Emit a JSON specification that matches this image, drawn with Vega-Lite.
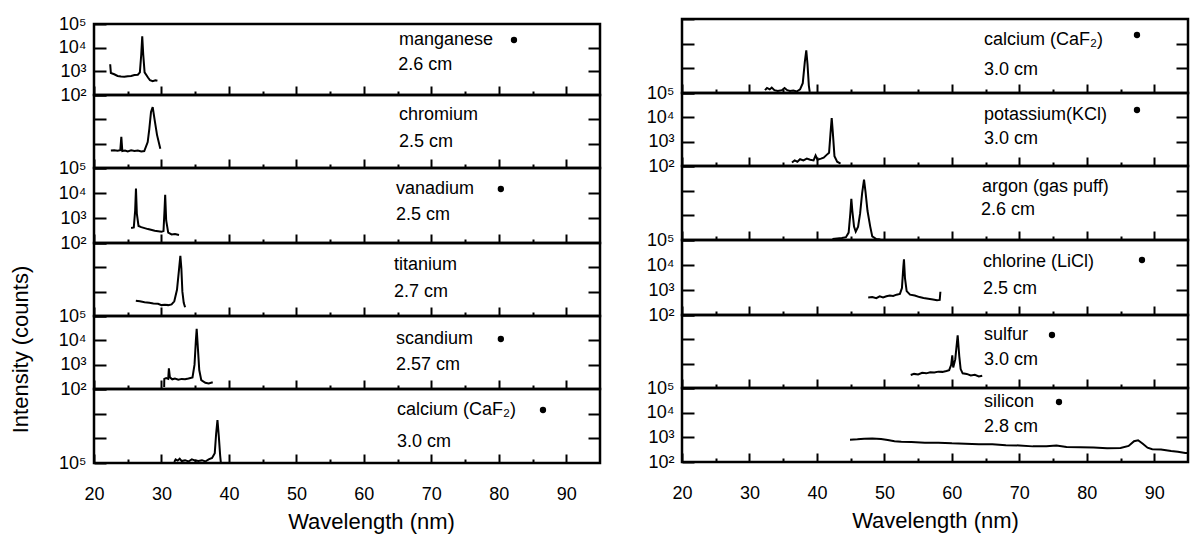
{
"$schema": "https://vega.github.io/schema/vega-lite/v6.json",
"background": "white",
"padding": {"left": 7, "top": 13, "right": 5, "bottom": 5},
"config": {
 "view": {"stroke": "black", "strokeWidth": 2.5},
 "font": "Liberation Sans",
 "axis": {"domain": false, "grid": false, "tickColor": "black", "tickWidth": 2, "labelColor": "black", "labelFont": "Liberation Sans", "labelFontSize": 18, "titleFont": "Liberation Sans", "titleFontSize": 22, "titleFontWeight": "normal", "titleColor": "black", "labelFlush": false, "labelOverlap": false},
 "axisX": {"labelPadding": 31, "titlePadding": 8},
 "axisY": {"labelPadding": 20}
},
"datasets": {
"spectra": [
{"p":"L1","w":22.4,"v":2000},{"p":"L1","w":22.5,"v":850},{"p":"L1","w":23,"v":750},{"p":"L1","w":23.5,"v":640},{"p":"L1","w":24,"v":600},{"p":"L1","w":24.5,"v":590},{"p":"L1","w":25,"v":620},{"p":"L1","w":25.5,"v":640},{"p":"L1","w":26,"v":700},{"p":"L1","w":26.5,"v":720},{"p":"L1","w":26.8,"v":900},{"p":"L1","w":27.0,"v":5000},{"p":"L1","w":27.15,"v":30000},{"p":"L1","w":27.3,"v":5000},{"p":"L1","w":27.5,"v":900},{"p":"L1","w":28.0,"v":550},{"p":"L1","w":28.3,"v":420},{"p":"L1","w":28.7,"v":380},{"p":"L1","w":29.1,"v":420},{"p":"L1","w":29.4,"v":400},
{"p":"L2","w":22.5,"v":520},{"p":"L2","w":23,"v":530},{"p":"L2","w":23.5,"v":510},{"p":"L2","w":23.9,"v":540},{"p":"L2","w":24.05,"v":1900},{"p":"L2","w":24.2,"v":500},{"p":"L2","w":24.6,"v":520},{"p":"L2","w":25,"v":480},{"p":"L2","w":25.5,"v":530},{"p":"L2","w":26,"v":500},{"p":"L2","w":26.5,"v":520},{"p":"L2","w":27,"v":480},{"p":"L2","w":27.45,"v":500},{"p":"L2","w":27.96,"v":1170},{"p":"L2","w":28.2,"v":4100},{"p":"L2","w":28.45,"v":20000},{"p":"L2","w":28.7,"v":32000},{"p":"L2","w":29.04,"v":7700},{"p":"L2","w":29.34,"v":2300},{"p":"L2","w":29.83,"v":615},
{"p":"L3","w":25.5,"v":400},{"p":"L3","w":25.9,"v":420},{"p":"L3","w":26.1,"v":2000},{"p":"L3","w":26.22,"v":15000},{"p":"L3","w":26.35,"v":1500},{"p":"L3","w":26.6,"v":480},{"p":"L3","w":27,"v":430},{"p":"L3","w":28,"v":360},{"p":"L3","w":29,"v":310},{"p":"L3","w":30,"v":280},{"p":"L3","w":30.3,"v":300},{"p":"L3","w":30.45,"v":2000},{"p":"L3","w":30.55,"v":8500},{"p":"L3","w":30.7,"v":800},{"p":"L3","w":31,"v":260},{"p":"L3","w":31.5,"v":220},{"p":"L3","w":32,"v":230},{"p":"L3","w":32.6,"v":210},
{"p":"L4","w":26.2,"v":420},{"p":"L4","w":26.8,"v":400},{"p":"L4","w":27.5,"v":370},{"p":"L4","w":28.2,"v":350},{"p":"L4","w":28.8,"v":330},{"p":"L4","w":29.5,"v":320},{"p":"L4","w":30,"v":280},{"p":"L4","w":30.5,"v":290},{"p":"L4","w":31,"v":280},{"p":"L4","w":31.5,"v":300},{"p":"L4","w":31.9,"v":400},{"p":"L4","w":32.3,"v":1200},{"p":"L4","w":32.6,"v":8000},{"p":"L4","w":32.8,"v":30000},{"p":"L4","w":32.95,"v":9000},{"p":"L4","w":33.1,"v":1000},{"p":"L4","w":33.3,"v":350},{"p":"L4","w":33.5,"v":230},
{"p":"L5","w":30.4,"v":120},{"p":"L5","w":30.42,"v":260},{"p":"L5","w":30.7,"v":280},{"p":"L5","w":31.0,"v":260},{"p":"L5","w":31.1,"v":700},{"p":"L5","w":31.25,"v":300},{"p":"L5","w":31.6,"v":250},{"p":"L5","w":32,"v":270},{"p":"L5","w":32.5,"v":240},{"p":"L5","w":33,"v":260},{"p":"L5","w":33.5,"v":250},{"p":"L5","w":34,"v":270},{"p":"L5","w":34.6,"v":300},{"p":"L5","w":34.9,"v":1000},{"p":"L5","w":35.1,"v":10000},{"p":"L5","w":35.22,"v":30000},{"p":"L5","w":35.35,"v":8000},{"p":"L5","w":35.6,"v":600},{"p":"L5","w":35.9,"v":230},{"p":"L5","w":36.5,"v":180},{"p":"L5","w":37,"v":170},{"p":"L5","w":37.6,"v":190},
{"p":"L6","w":31.9,"v":110},{"p":"L6","w":32.1,"v":140},{"p":"L6","w":32.4,"v":125},{"p":"L6","w":32.7,"v":150},{"p":"L6","w":33,"v":120},{"p":"L6","w":33.5,"v":130},{"p":"L6","w":34,"v":115},{"p":"L6","w":34.5,"v":140},{"p":"L6","w":35,"v":125},{"p":"L6","w":35.5,"v":120},{"p":"L6","w":36,"v":130},{"p":"L6","w":36.5,"v":115},{"p":"L6","w":37,"v":140},{"p":"L6","w":37.5,"v":160},{"p":"L6","w":37.9,"v":250},{"p":"L6","w":38.1,"v":1500},{"p":"L6","w":38.3,"v":5500},{"p":"L6","w":38.5,"v":1200},{"p":"L6","w":38.7,"v":200},{"p":"L6","w":38.8,"v":105},
{"p":"R1","w":32.3,"v":130},{"p":"R1","w":32.6,"v":160},{"p":"R1","w":33,"v":140},{"p":"R1","w":33.3,"v":165},{"p":"R1","w":33.7,"v":130},{"p":"R1","w":34.2,"v":120},{"p":"R1","w":34.8,"v":130},{"p":"R1","w":35.2,"v":160},{"p":"R1","w":35.6,"v":130},{"p":"R1","w":36,"v":120},{"p":"R1","w":36.5,"v":125},{"p":"R1","w":37,"v":115},{"p":"R1","w":37.5,"v":140},{"p":"R1","w":37.9,"v":250},{"p":"R1","w":38.2,"v":1800},{"p":"R1","w":38.42,"v":5400},{"p":"R1","w":38.6,"v":1500},{"p":"R1","w":38.8,"v":200},{"p":"R1","w":38.93,"v":110},
{"p":"R2","w":36.3,"v":140},{"p":"R2","w":36.7,"v":170},{"p":"R2","w":37.1,"v":150},{"p":"R2","w":37.5,"v":190},{"p":"R2","w":38,"v":170},{"p":"R2","w":38.5,"v":200},{"p":"R2","w":39,"v":180},{"p":"R2","w":39.5,"v":170},{"p":"R2","w":39.8,"v":270},{"p":"R2","w":40.1,"v":180},{"p":"R2","w":40.6,"v":200},{"p":"R2","w":41,"v":220},{"p":"R2","w":41.4,"v":280},{"p":"R2","w":41.8,"v":350},{"p":"R2","w":42.0,"v":2000},{"p":"R2","w":42.19,"v":9400},{"p":"R2","w":42.35,"v":2500},{"p":"R2","w":42.6,"v":250},{"p":"R2","w":43,"v":150},{"p":"R2","w":43.5,"v":125},
{"p":"R3","w":42.3,"v":110},{"p":"R3","w":43,"v":115},{"p":"R3","w":43.7,"v":120},{"p":"R3","w":44.3,"v":130},{"p":"R3","w":44.7,"v":200},{"p":"R3","w":44.95,"v":1200},{"p":"R3","w":45.1,"v":4700},{"p":"R3","w":45.25,"v":1500},{"p":"R3","w":45.5,"v":350},{"p":"R3","w":45.75,"v":220},{"p":"R3","w":46.1,"v":350},{"p":"R3","w":46.4,"v":1200},{"p":"R3","w":46.7,"v":8000},{"p":"R3","w":46.98,"v":27800},{"p":"R3","w":47.2,"v":9000},{"p":"R3","w":47.5,"v":1500},{"p":"R3","w":47.9,"v":350},{"p":"R3","w":48.2,"v":140},{"p":"R3","w":48.8,"v":110},{"p":"R3","w":49.4,"v":105},
{"p":"R4","w":47.6,"v":500},{"p":"R4","w":48.2,"v":520},{"p":"R4","w":48.8,"v":470},{"p":"R4","w":49.3,"v":560},{"p":"R4","w":49.8,"v":500},{"p":"R4","w":50.3,"v":560},{"p":"R4","w":50.8,"v":600},{"p":"R4","w":51.3,"v":580},{"p":"R4","w":51.8,"v":650},{"p":"R4","w":52.3,"v":700},{"p":"R4","w":52.6,"v":1200},{"p":"R4","w":52.8,"v":8000},{"p":"R4","w":52.9,"v":17000},{"p":"R4","w":53.05,"v":3000},{"p":"R4","w":53.3,"v":900},{"p":"R4","w":53.8,"v":650},{"p":"R4","w":54.5,"v":600},{"p":"R4","w":55.2,"v":520},{"p":"R4","w":55.8,"v":480},{"p":"R4","w":56.5,"v":450},{"p":"R4","w":57.2,"v":420},{"p":"R4","w":57.8,"v":390},{"p":"R4","w":58.2,"v":400},{"p":"R4","w":58.3,"v":850},
{"p":"R5","w":53.9,"v":340},{"p":"R5","w":54.4,"v":380},{"p":"R5","w":55,"v":360},{"p":"R5","w":55.6,"v":420},{"p":"R5","w":56.2,"v":400},{"p":"R5","w":56.8,"v":440},{"p":"R5","w":57.4,"v":430},{"p":"R5","w":58,"v":470},{"p":"R5","w":58.6,"v":460},{"p":"R5","w":59.2,"v":500},{"p":"R5","w":59.6,"v":540},{"p":"R5","w":59.9,"v":900},{"p":"R5","w":60.06,"v":2200},{"p":"R5","w":60.2,"v":700},{"p":"R5","w":60.5,"v":1500},{"p":"R5","w":60.86,"v":14700},{"p":"R5","w":61.1,"v":2000},{"p":"R5","w":61.3,"v":600},{"p":"R5","w":61.6,"v":400},{"p":"R5","w":62.2,"v":380},{"p":"R5","w":62.8,"v":330},{"p":"R5","w":63.4,"v":350},{"p":"R5","w":64,"v":300},{"p":"R5","w":64.5,"v":320},
{"p":"R6","w":44.9,"v":800},{"p":"R6","w":46,"v":830},{"p":"R6","w":47,"v":880},{"p":"R6","w":48.2,"v":900},{"p":"R6","w":49.5,"v":850},{"p":"R6","w":50.5,"v":780},{"p":"R6","w":51.5,"v":700},{"p":"R6","w":52.5,"v":660},{"p":"R6","w":54,"v":640},{"p":"R6","w":56,"v":600},{"p":"R6","w":58,"v":610},{"p":"R6","w":60,"v":570},{"p":"R6","w":62,"v":550},{"p":"R6","w":64,"v":530},{"p":"R6","w":66,"v":520},{"p":"R6","w":68,"v":480},{"p":"R6","w":70,"v":470},{"p":"R6","w":72,"v":430},{"p":"R6","w":74,"v":440},{"p":"R6","w":75.5,"v":470},{"p":"R6","w":77,"v":410},{"p":"R6","w":79,"v":400},{"p":"R6","w":81,"v":390},{"p":"R6","w":83,"v":360},{"p":"R6","w":85,"v":370},{"p":"R6","w":86.2,"v":450},{"p":"R6","w":87,"v":700},{"p":"R6","w":87.6,"v":760},{"p":"R6","w":88.3,"v":550},{"p":"R6","w":89,"v":380},{"p":"R6","w":89.7,"v":330},{"p":"R6","w":91,"v":320},{"p":"R6","w":92.5,"v":280},{"p":"R6","w":93.5,"v":260},{"p":"R6","w":94.6,"v":230},{"p":"R6","w":95,"v":230}
],
"annot": [
{"p":"L1","k":"t","t":"manganese","w":65.2,"v":21100},{"p":"L1","k":"t","t":"2.6 cm","w":65.1,"v":1850},{"p":"L1","k":"d","t":"","w":82.25,"v":21100},
{"p":"L2","k":"t","t":"chromium","w":65.2,"v":15070},{"p":"L2","k":"t","t":"2.5 cm","w":65.2,"v":1170},
{"p":"L3","k":"t","t":"vanadium","w":64.76,"v":14450},{"p":"L3","k":"t","t":"2.5 cm","w":64.76,"v":1320},{"p":"L3","k":"d","t":"","w":80.3,"v":14450},
{"p":"L4","k":"t","t":"titanium","w":64.46,"v":12470},{"p":"L4","k":"t","t":"2.7 cm","w":64.46,"v":970},
{"p":"L5","k":"t","t":"scandium","w":64.76,"v":11350},{"p":"L5","k":"t","t":"2.57 cm","w":64.76,"v":970},{"p":"L5","k":"d","t":"","w":80.3,"v":11350},
{"p":"L6","k":"t","t":"calcium (CaF₂)","w":64.9,"v":14100},{"p":"L6","k":"t","t":"3.0 cm","w":64.9,"v":710},{"p":"L6","k":"d","t":"","w":86.55,"v":14100},
{"p":"R1","k":"t","t":"calcium (CaF₂)","w":64.76,"v":14100},{"p":"R1","k":"t","t":"3.0 cm","w":64.76,"v":857},{"p":"R1","k":"d","t":"","w":87.44,"v":22450},
{"p":"R2","k":"t","t":"potassium(KCl)","w":64.76,"v":12470},{"p":"R2","k":"t","t":"3.0 cm","w":64.76,"v":1290},{"p":"R2","k":"d","t":"","w":87.44,"v":20000},
{"p":"R3","k":"t","t":"argon (gas puff)","w":64.46,"v":14100},{"p":"R3","k":"t","t":"2.6 cm","w":64.3,"v":1640},
{"p":"R4","k":"t","t":"chlorine (LiCl)","w":64.6,"v":13180},{"p":"R4","k":"t","t":"2.5 cm","w":64.6,"v":1096},{"p":"R4","k":"d","t":"","w":88.18,"v":15850},
{"p":"R5","k":"t","t":"sulfur","w":64.76,"v":15070},{"p":"R5","k":"t","t":"3.0 cm","w":64.76,"v":1410},{"p":"R5","k":"d","t":"","w":74.84,"v":15070},
{"p":"R6","k":"t","t":"silicon","w":64.76,"v":27000},{"p":"R6","k":"t","t":"2.8 cm","w":64.76,"v":2620},{"p":"R6","k":"d","t":"","w":75.88,"v":27000}
]
},
"hconcat": [
{"vconcat": [
 {"width": 506, "height": 5, "data": {"values": []}, "mark": "point", "view": {"stroke": null}},
 {"width": 506, "height": 71, "resolve": {"axis": {"x": "independent", "y": "independent"}}, "layer": [
  {"data": {"name": "spectra"}, "transform": [{"filter": "datum.p == 'L1'"}], "mark": {"type": "line", "color": "black", "strokeWidth": 2, "clip": true},
   "encoding": {"x": {"field": "w", "type": "quantitative", "scale": {"domain": [20, 95], "nice": false, "zero": false}, "axis": {"values": [20,30,40,50,60,70,80,90], "tickSize": -9, "labels": false, "title": null}},
     "y": {"field": "v", "type": "quantitative", "scale": {"type": "log", "domain": [100, 100000], "nice": false}, "axis": {"values": [100,1000,10000,100000], "tickSize": -12, "labelExpr": "datum.value < 500 ? '10²' : datum.value < 5000 ? '10³' : datum.value < 50000 ? '10⁴' : '10⁵'", "title": null}}}},
  {"data": {"name": "annot"}, "transform": [{"filter": "datum.p == 'L1' && datum.k == 't'"}], "mark": {"type": "text", "align": "left", "baseline": "middle", "fontSize": 18, "font": "Liberation Sans", "color": "black"},
   "encoding": {"x": {"field": "w", "type": "quantitative", "axis": {"orient": "bottom", "values": [25,35,45,55,65,75,85], "tickSize": -4, "labels": false, "title": null}}, "y": {"field": "v", "type": "quantitative", "axis": {"orient": "right", "values": [1000,10000], "tickSize": -12, "labels": false, "title": null}}, "text": {"field": "t"}}},
  {"data": {"name": "annot"}, "transform": [{"filter": "datum.p == 'L1' && datum.k == 'd'"}], "mark": {"type": "point", "filled": true, "color": "black", "size": 40, "opacity": 1},
   "encoding": {"x": {"field": "w", "type": "quantitative", "axis": null}, "y": {"field": "v", "type": "quantitative", "axis": null}}}
 ]},
 {"width": 506, "height": 73, "resolve": {"axis": {"x": "independent", "y": "independent"}}, "layer": [
  {"data": {"name": "spectra"}, "transform": [{"filter": "datum.p == 'L2'"}], "mark": {"type": "line", "color": "black", "strokeWidth": 2, "clip": true},
   "encoding": {"x": {"field": "w", "type": "quantitative", "scale": {"domain": [20, 95], "nice": false, "zero": false}, "axis": {"values": [20,30,40,50,60,70,80,90], "tickSize": -9, "labels": false, "title": null}},
     "y": {"field": "v", "type": "quantitative", "scale": {"type": "log", "domain": [100, 100000], "nice": false}, "axis": {"values": [100,1000,10000,100000], "tickSize": -12, "labels": false, "title": null}}}},
  {"data": {"name": "annot"}, "transform": [{"filter": "datum.p == 'L2' && datum.k == 't'"}], "mark": {"type": "text", "align": "left", "baseline": "middle", "fontSize": 18, "font": "Liberation Sans", "color": "black"},
   "encoding": {"x": {"field": "w", "type": "quantitative", "axis": {"orient": "bottom", "values": [25,35,45,55,65,75,85], "tickSize": -4, "labels": false, "title": null}}, "y": {"field": "v", "type": "quantitative", "axis": {"orient": "right", "values": [1000,10000], "tickSize": -12, "labels": false, "title": null}}, "text": {"field": "t"}}},
  {"data": {"name": "annot"}, "transform": [{"filter": "datum.p == 'L2' && datum.k == 'd'"}], "mark": {"type": "point", "filled": true, "color": "black", "size": 40, "opacity": 1},
   "encoding": {"x": {"field": "w", "type": "quantitative", "axis": null}, "y": {"field": "v", "type": "quantitative", "axis": null}}}
 ]},
 {"width": 506, "height": 75, "resolve": {"axis": {"x": "independent", "y": "independent"}}, "layer": [
  {"data": {"name": "spectra"}, "transform": [{"filter": "datum.p == 'L3'"}], "mark": {"type": "line", "color": "black", "strokeWidth": 2, "clip": true},
   "encoding": {"x": {"field": "w", "type": "quantitative", "scale": {"domain": [20, 95], "nice": false, "zero": false}, "axis": {"values": [20,30,40,50,60,70,80,90], "tickSize": -9, "labels": false, "title": null}},
     "y": {"field": "v", "type": "quantitative", "scale": {"type": "log", "domain": [100, 100000], "nice": false}, "axis": {"values": [100,1000,10000,100000], "tickSize": -12, "labelExpr": "datum.value < 500 ? '10²' : datum.value < 5000 ? '10³' : datum.value < 50000 ? '10⁴' : '10⁵'", "title": null}}}},
  {"data": {"name": "annot"}, "transform": [{"filter": "datum.p == 'L3' && datum.k == 't'"}], "mark": {"type": "text", "align": "left", "baseline": "middle", "fontSize": 18, "font": "Liberation Sans", "color": "black"},
   "encoding": {"x": {"field": "w", "type": "quantitative", "axis": {"orient": "bottom", "values": [25,35,45,55,65,75,85], "tickSize": -4, "labels": false, "title": null}}, "y": {"field": "v", "type": "quantitative", "axis": {"orient": "right", "values": [1000,10000], "tickSize": -12, "labels": false, "title": null}}, "text": {"field": "t"}}},
  {"data": {"name": "annot"}, "transform": [{"filter": "datum.p == 'L3' && datum.k == 'd'"}], "mark": {"type": "point", "filled": true, "color": "black", "size": 40, "opacity": 1},
   "encoding": {"x": {"field": "w", "type": "quantitative", "axis": null}, "y": {"field": "v", "type": "quantitative", "axis": null}}}
 ]},
 {"width": 506, "height": 73, "resolve": {"axis": {"x": "independent", "y": "independent"}}, "layer": [
  {"data": {"name": "spectra"}, "transform": [{"filter": "datum.p == 'L4'"}], "mark": {"type": "line", "color": "black", "strokeWidth": 2, "clip": true},
   "encoding": {"x": {"field": "w", "type": "quantitative", "scale": {"domain": [20, 95], "nice": false, "zero": false}, "axis": {"values": [20,30,40,50,60,70,80,90], "tickSize": -9, "labels": false, "title": null}},
     "y": {"field": "v", "type": "quantitative", "scale": {"type": "log", "domain": [100, 100000], "nice": false}, "axis": {"values": [100,1000,10000,100000], "tickSize": -12, "labels": false, "title": null}}}},
  {"data": {"name": "annot"}, "transform": [{"filter": "datum.p == 'L4' && datum.k == 't'"}], "mark": {"type": "text", "align": "left", "baseline": "middle", "fontSize": 18, "font": "Liberation Sans", "color": "black"},
   "encoding": {"x": {"field": "w", "type": "quantitative", "axis": {"orient": "bottom", "values": [25,35,45,55,65,75,85], "tickSize": -4, "labels": false, "title": null}}, "y": {"field": "v", "type": "quantitative", "axis": {"orient": "right", "values": [1000,10000], "tickSize": -12, "labels": false, "title": null}}, "text": {"field": "t"}}},
  {"data": {"name": "annot"}, "transform": [{"filter": "datum.p == 'L4' && datum.k == 'd'"}], "mark": {"type": "point", "filled": true, "color": "black", "size": 40, "opacity": 1},
   "encoding": {"x": {"field": "w", "type": "quantitative", "axis": null}, "y": {"field": "v", "type": "quantitative", "axis": null}}}
 ]},
 {"width": 506, "height": 73, "resolve": {"axis": {"x": "independent", "y": "independent"}}, "layer": [
  {"data": {"name": "spectra"}, "transform": [{"filter": "datum.p == 'L5'"}], "mark": {"type": "line", "color": "black", "strokeWidth": 2, "clip": true},
   "encoding": {"x": {"field": "w", "type": "quantitative", "scale": {"domain": [20, 95], "nice": false, "zero": false}, "axis": {"values": [20,30,40,50,60,70,80,90], "tickSize": -9, "labels": false, "title": null}},
     "y": {"field": "v", "type": "quantitative", "scale": {"type": "log", "domain": [100, 100000], "nice": false}, "axis": {"values": [100,1000,10000,100000], "tickSize": -12, "labelExpr": "datum.value < 500 ? '10²' : datum.value < 5000 ? '10³' : datum.value < 50000 ? '10⁴' : '10⁵'", "title": "Intensity (counts)", "titleX": -67, "titleY": 33, "titleBaseline": "alphabetic"}}}},
  {"data": {"name": "annot"}, "transform": [{"filter": "datum.p == 'L5' && datum.k == 't'"}], "mark": {"type": "text", "align": "left", "baseline": "middle", "fontSize": 18, "font": "Liberation Sans", "color": "black"},
   "encoding": {"x": {"field": "w", "type": "quantitative", "axis": {"orient": "bottom", "values": [25,35,45,55,65,75,85], "tickSize": -4, "labels": false, "title": null}}, "y": {"field": "v", "type": "quantitative", "axis": {"orient": "right", "values": [1000,10000], "tickSize": -12, "labels": false, "title": null}}, "text": {"field": "t"}}},
  {"data": {"name": "annot"}, "transform": [{"filter": "datum.p == 'L5' && datum.k == 'd'"}], "mark": {"type": "point", "filled": true, "color": "black", "size": 40, "opacity": 1},
   "encoding": {"x": {"field": "w", "type": "quantitative", "axis": null}, "y": {"field": "v", "type": "quantitative", "axis": null}}}
 ]},
 {"width": 506, "height": 74, "resolve": {"axis": {"x": "independent", "y": "independent"}}, "layer": [
  {"data": {"name": "spectra"}, "transform": [{"filter": "datum.p == 'L6'"}], "mark": {"type": "line", "color": "black", "strokeWidth": 2, "clip": true},
   "encoding": {"x": {"field": "w", "type": "quantitative", "scale": {"domain": [20, 95], "nice": false, "zero": false}, "axis": {"values": [20,30,40,50,60,70,80,90], "tickSize": -9, "labels": true, "title": "Wavelength (nm)", "titleX": 277}},
     "y": {"field": "v", "type": "quantitative", "scale": {"type": "log", "domain": [100, 100000], "nice": false}, "axis": {"values": [100,1000,10000,100000], "tickSize": -12, "labelExpr": "datum.value < 500 ? '10⁵' : ''", "title": null}}}},
  {"data": {"name": "annot"}, "transform": [{"filter": "datum.p == 'L6' && datum.k == 't'"}], "mark": {"type": "text", "align": "left", "baseline": "middle", "fontSize": 18, "font": "Liberation Sans", "color": "black"},
   "encoding": {"x": {"field": "w", "type": "quantitative", "axis": {"orient": "bottom", "values": [25,35,45,55,65,75,85], "tickSize": -4, "labels": false, "title": null}}, "y": {"field": "v", "type": "quantitative", "axis": {"orient": "right", "values": [1000,10000], "tickSize": -12, "labels": false, "title": null}}, "text": {"field": "t"}}},
  {"data": {"name": "annot"}, "transform": [{"filter": "datum.p == 'L6' && datum.k == 'd'"}], "mark": {"type": "point", "filled": true, "color": "black", "size": 40, "opacity": 1},
   "encoding": {"x": {"field": "w", "type": "quantitative", "axis": null}, "y": {"field": "v", "type": "quantitative", "axis": null}}}
 ]}
], "spacing": 0, "bounds": "flush"},
{"vconcat": [
 {"width": 506, "height": 74, "resolve": {"axis": {"x": "independent", "y": "independent"}}, "layer": [
  {"data": {"name": "spectra"}, "transform": [{"filter": "datum.p == 'R1'"}], "mark": {"type": "line", "color": "black", "strokeWidth": 2, "clip": true},
   "encoding": {"x": {"field": "w", "type": "quantitative", "scale": {"domain": [20, 95], "nice": false, "zero": false}, "axis": {"values": [20,30,40,50,60,70,80,90], "tickSize": -9, "labels": false, "title": null}},
     "y": {"field": "v", "type": "quantitative", "scale": {"type": "log", "domain": [100, 100000], "nice": false}, "axis": {"values": [100,1000,10000,100000], "tickSize": -12, "labels": false, "title": null}}}},
  {"data": {"name": "annot"}, "transform": [{"filter": "datum.p == 'R1' && datum.k == 't'"}], "mark": {"type": "text", "align": "left", "baseline": "middle", "fontSize": 18, "font": "Liberation Sans", "color": "black"},
   "encoding": {"x": {"field": "w", "type": "quantitative", "axis": {"orient": "bottom", "values": [25,35,45,55,65,75,85], "tickSize": -4, "labels": false, "title": null}}, "y": {"field": "v", "type": "quantitative", "axis": {"orient": "right", "values": [1000,10000], "tickSize": -12, "labels": false, "title": null}}, "text": {"field": "t"}}},
  {"data": {"name": "annot"}, "transform": [{"filter": "datum.p == 'R1' && datum.k == 'd'"}], "mark": {"type": "point", "filled": true, "color": "black", "size": 40, "opacity": 1},
   "encoding": {"x": {"field": "w", "type": "quantitative", "axis": null}, "y": {"field": "v", "type": "quantitative", "axis": null}}}
 ]},
 {"width": 506, "height": 73, "resolve": {"axis": {"x": "independent", "y": "independent"}}, "layer": [
  {"data": {"name": "spectra"}, "transform": [{"filter": "datum.p == 'R2'"}], "mark": {"type": "line", "color": "black", "strokeWidth": 2, "clip": true},
   "encoding": {"x": {"field": "w", "type": "quantitative", "scale": {"domain": [20, 95], "nice": false, "zero": false}, "axis": {"values": [20,30,40,50,60,70,80,90], "tickSize": -9, "labels": false, "title": null}},
     "y": {"field": "v", "type": "quantitative", "scale": {"type": "log", "domain": [100, 100000], "nice": false}, "axis": {"values": [100,1000,10000,100000], "tickSize": -12, "labelExpr": "datum.value < 500 ? '10²' : datum.value < 5000 ? '10³' : datum.value < 50000 ? '10⁴' : '10⁵'", "title": null}}}},
  {"data": {"name": "annot"}, "transform": [{"filter": "datum.p == 'R2' && datum.k == 't'"}], "mark": {"type": "text", "align": "left", "baseline": "middle", "fontSize": 18, "font": "Liberation Sans", "color": "black"},
   "encoding": {"x": {"field": "w", "type": "quantitative", "axis": {"orient": "bottom", "values": [25,35,45,55,65,75,85], "tickSize": -4, "labels": false, "title": null}}, "y": {"field": "v", "type": "quantitative", "axis": {"orient": "right", "values": [1000,10000], "tickSize": -12, "labels": false, "title": null}}, "text": {"field": "t"}}},
  {"data": {"name": "annot"}, "transform": [{"filter": "datum.p == 'R2' && datum.k == 'd'"}], "mark": {"type": "point", "filled": true, "color": "black", "size": 40, "opacity": 1},
   "encoding": {"x": {"field": "w", "type": "quantitative", "axis": null}, "y": {"field": "v", "type": "quantitative", "axis": null}}}
 ]},
 {"width": 506, "height": 74, "resolve": {"axis": {"x": "independent", "y": "independent"}}, "layer": [
  {"data": {"name": "spectra"}, "transform": [{"filter": "datum.p == 'R3'"}], "mark": {"type": "line", "color": "black", "strokeWidth": 2, "clip": true},
   "encoding": {"x": {"field": "w", "type": "quantitative", "scale": {"domain": [20, 95], "nice": false, "zero": false}, "axis": {"values": [20,30,40,50,60,70,80,90], "tickSize": -9, "labels": false, "title": null}},
     "y": {"field": "v", "type": "quantitative", "scale": {"type": "log", "domain": [100, 100000], "nice": false}, "axis": {"values": [100,1000,10000,100000], "tickSize": -12, "labels": false, "title": null}}}},
  {"data": {"name": "annot"}, "transform": [{"filter": "datum.p == 'R3' && datum.k == 't'"}], "mark": {"type": "text", "align": "left", "baseline": "middle", "fontSize": 18, "font": "Liberation Sans", "color": "black"},
   "encoding": {"x": {"field": "w", "type": "quantitative", "axis": {"orient": "bottom", "values": [25,35,45,55,65,75,85], "tickSize": -4, "labels": false, "title": null}}, "y": {"field": "v", "type": "quantitative", "axis": {"orient": "right", "values": [1000,10000], "tickSize": -12, "labels": false, "title": null}}, "text": {"field": "t"}}},
  {"data": {"name": "annot"}, "transform": [{"filter": "datum.p == 'R3' && datum.k == 'd'"}], "mark": {"type": "point", "filled": true, "color": "black", "size": 40, "opacity": 1},
   "encoding": {"x": {"field": "w", "type": "quantitative", "axis": null}, "y": {"field": "v", "type": "quantitative", "axis": null}}}
 ]},
 {"width": 506, "height": 75, "resolve": {"axis": {"x": "independent", "y": "independent"}}, "layer": [
  {"data": {"name": "spectra"}, "transform": [{"filter": "datum.p == 'R4'"}], "mark": {"type": "line", "color": "black", "strokeWidth": 2, "clip": true},
   "encoding": {"x": {"field": "w", "type": "quantitative", "scale": {"domain": [20, 95], "nice": false, "zero": false}, "axis": {"values": [20,30,40,50,60,70,80,90], "tickSize": -9, "labels": false, "title": null}},
     "y": {"field": "v", "type": "quantitative", "scale": {"type": "log", "domain": [100, 100000], "nice": false}, "axis": {"values": [100,1000,10000,100000], "tickSize": -12, "labelExpr": "datum.value < 500 ? '10²' : datum.value < 5000 ? '10³' : datum.value < 50000 ? '10⁴' : '10⁵'", "title": null}}}},
  {"data": {"name": "annot"}, "transform": [{"filter": "datum.p == 'R4' && datum.k == 't'"}], "mark": {"type": "text", "align": "left", "baseline": "middle", "fontSize": 18, "font": "Liberation Sans", "color": "black"},
   "encoding": {"x": {"field": "w", "type": "quantitative", "axis": {"orient": "bottom", "values": [25,35,45,55,65,75,85], "tickSize": -4, "labels": false, "title": null}}, "y": {"field": "v", "type": "quantitative", "axis": {"orient": "right", "values": [1000,10000], "tickSize": -12, "labels": false, "title": null}}, "text": {"field": "t"}}},
  {"data": {"name": "annot"}, "transform": [{"filter": "datum.p == 'R4' && datum.k == 'd'"}], "mark": {"type": "point", "filled": true, "color": "black", "size": 40, "opacity": 1},
   "encoding": {"x": {"field": "w", "type": "quantitative", "axis": null}, "y": {"field": "v", "type": "quantitative", "axis": null}}}
 ]},
 {"width": 506, "height": 73, "resolve": {"axis": {"x": "independent", "y": "independent"}}, "layer": [
  {"data": {"name": "spectra"}, "transform": [{"filter": "datum.p == 'R5'"}], "mark": {"type": "line", "color": "black", "strokeWidth": 2, "clip": true},
   "encoding": {"x": {"field": "w", "type": "quantitative", "scale": {"domain": [20, 95], "nice": false, "zero": false}, "axis": {"values": [20,30,40,50,60,70,80,90], "tickSize": -9, "labels": false, "title": null}},
     "y": {"field": "v", "type": "quantitative", "scale": {"type": "log", "domain": [100, 100000], "nice": false}, "axis": {"values": [100,1000,10000,100000], "tickSize": -12, "labels": false, "title": null}}}},
  {"data": {"name": "annot"}, "transform": [{"filter": "datum.p == 'R5' && datum.k == 't'"}], "mark": {"type": "text", "align": "left", "baseline": "middle", "fontSize": 18, "font": "Liberation Sans", "color": "black"},
   "encoding": {"x": {"field": "w", "type": "quantitative", "axis": {"orient": "bottom", "values": [25,35,45,55,65,75,85], "tickSize": -4, "labels": false, "title": null}}, "y": {"field": "v", "type": "quantitative", "axis": {"orient": "right", "values": [1000,10000], "tickSize": -12, "labels": false, "title": null}}, "text": {"field": "t"}}},
  {"data": {"name": "annot"}, "transform": [{"filter": "datum.p == 'R5' && datum.k == 'd'"}], "mark": {"type": "point", "filled": true, "color": "black", "size": 40, "opacity": 1},
   "encoding": {"x": {"field": "w", "type": "quantitative", "axis": null}, "y": {"field": "v", "type": "quantitative", "axis": null}}}
 ]},
 {"width": 506, "height": 74, "resolve": {"axis": {"x": "independent", "y": "independent"}}, "layer": [
  {"data": {"name": "spectra"}, "transform": [{"filter": "datum.p == 'R6'"}], "mark": {"type": "line", "color": "black", "strokeWidth": 2, "clip": true},
   "encoding": {"x": {"field": "w", "type": "quantitative", "scale": {"domain": [20, 95], "nice": false, "zero": false}, "axis": {"values": [20,30,40,50,60,70,80,90], "tickSize": -9, "labels": true, "title": "Wavelength (nm)"}},
     "y": {"field": "v", "type": "quantitative", "scale": {"type": "log", "domain": [100, 100000], "nice": false}, "axis": {"values": [100,1000,10000,100000], "tickSize": -12, "labelExpr": "datum.value < 500 ? '10²' : datum.value < 5000 ? '10³' : datum.value < 50000 ? '10⁴' : '10⁵'", "title": null}}}},
  {"data": {"name": "annot"}, "transform": [{"filter": "datum.p == 'R6' && datum.k == 't'"}], "mark": {"type": "text", "align": "left", "baseline": "middle", "fontSize": 18, "font": "Liberation Sans", "color": "black"},
   "encoding": {"x": {"field": "w", "type": "quantitative", "axis": {"orient": "bottom", "values": [25,35,45,55,65,75,85], "tickSize": -4, "labels": false, "title": null}}, "y": {"field": "v", "type": "quantitative", "axis": {"orient": "right", "values": [1000,10000], "tickSize": -12, "labels": false, "title": null}}, "text": {"field": "t"}}},
  {"data": {"name": "annot"}, "transform": [{"filter": "datum.p == 'R6' && datum.k == 'd'"}], "mark": {"type": "point", "filled": true, "color": "black", "size": 40, "opacity": 1},
   "encoding": {"x": {"field": "w", "type": "quantitative", "axis": null}, "y": {"field": "v", "type": "quantitative", "axis": null}}}
 ]}
], "spacing": 0, "bounds": "flush"}
],
"spacing": 588,
"bounds": "flush"
}
